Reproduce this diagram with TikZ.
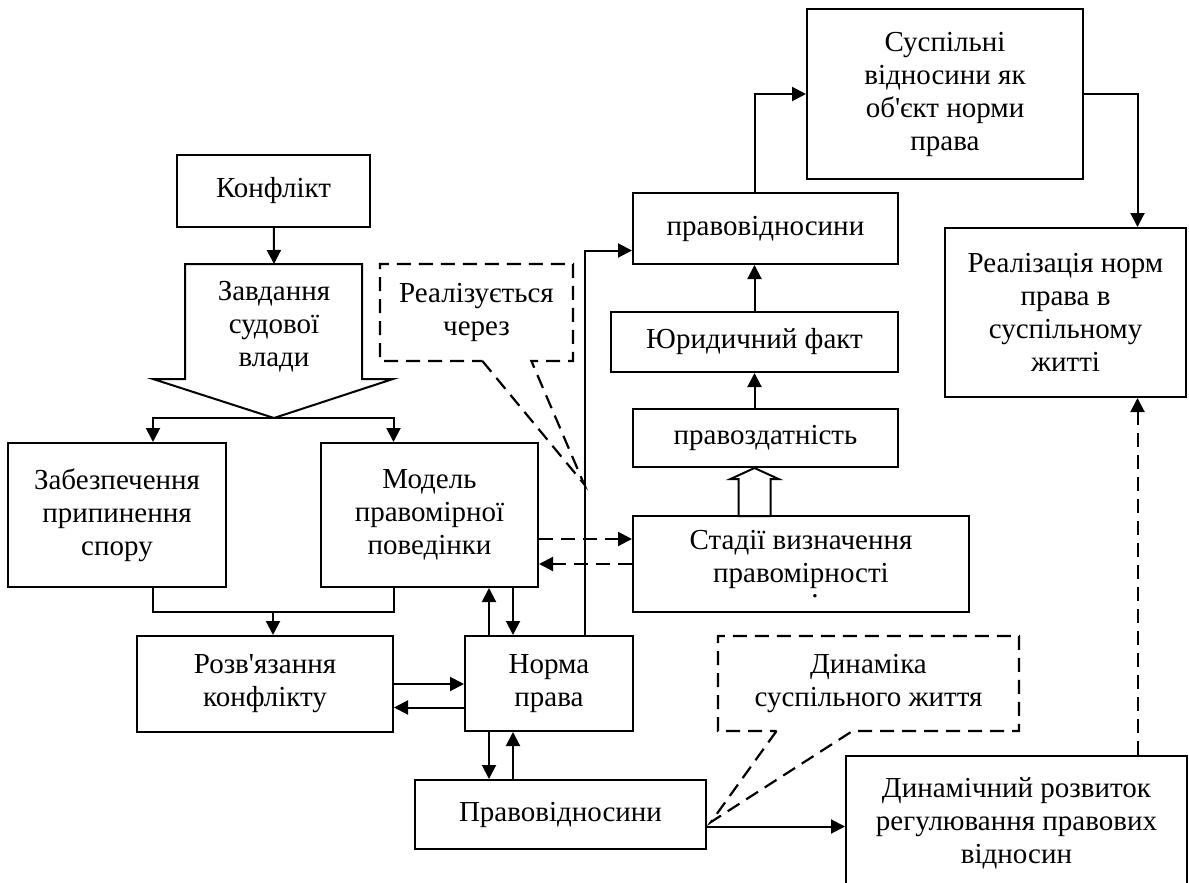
\documentclass[tikz,border=0pt]{standalone}
\usepackage{fontspec}
\setmainfont{Liberation Serif}
\usetikzlibrary{arrows.meta}
\usetikzlibrary{shapes.callouts}

\tikzset{
  blok/.style={draw, line width=1pt, align=center, inner sep=2pt},
  vynoska/.style={rectangle callout, draw, dash pattern=on 7pt off 4pt,
                  line width=1.1pt, align=center, inner sep=2pt},
  arr/.style={-{Triangle[length=7pt,width=7pt]}, line width=1pt},
  darr/.style={arr, dash pattern=on 7pt off 4pt},
}

\begin{document}
\begin{tikzpicture}[x=0.5pt,y=-0.5pt,font=\fontsize{14.5}{16.5}\selectfont]
 \useasboundingbox (0,0) rectangle (1189,883);
 \clip (0,0) rectangle (1189,883);

 % left part
 \node[blok, minimum width=96.5pt, minimum height=36pt] (konflikt) at (273.5,191) {Конфлікт};
 \coordinate (zavdtop) at (274,264);
 \coordinate (zavdtip) at (274,418);
 \draw[line width=1pt] (185,264) -- (362,264) -- (362,379) -- (393,379)
        -- (zavdtip) -- (153,379) -- (185,379) -- cycle;
 \node[align=center] (zavd) at (274,327) {Завдання\\судової\\влади};
 \node[blok, minimum width=109pt, minimum height=72pt] (zabezp) at (117,515)
   {Забезпечення\\припинення\\спору};
 \node[blok, minimum width=108.5pt, minimum height=72pt] (model) at (429.5,515)
   {Модель\\правомірної\\поведінки};
 \node[blok, minimum width=128pt, minimum height=48pt] (rozv) at (265,684)
   {Розв\textquotesingle язання\\конфлікту};
 \node[blok, minimum width=84pt, minimum height=47.5pt] (norma) at (549,683.5)
   {Норма\\права};
 \node[blok, minimum width=145.5pt, minimum height=34.5pt] (pravovidB) at (560.5,814.5)
   {Правовідносини};

 % right part
 \node[blok, minimum width=132.5pt, minimum height=35.5pt] (pravovidT) at (765.5,228.5)
   {правовідносини};
 \node[blok, minimum width=143.5pt, minimum height=30pt] (yuryd) at (754.5,342)
   {Юридичний факт};
 \node[blok, minimum width=132.5pt, minimum height=29pt] (pravozd) at (765.5,438)
   {правоздатність};
 \node[blok, minimum width=168pt, minimum height=48pt] (stadii) at (801,564)
   {Стадії визначення\\правомірності\\[-9pt]\hspace*{14pt}.};
 \node[blok, minimum width=138pt, minimum height=85pt] (suspilni) at (945,94)
   {Суспільні\\відносини як\\об\textquotesingle єкт норми\\права};
 \node[blok, minimum width=120.5pt, minimum height=84.5pt] (realizacia) at (1065.5,312.5)
   {Реалізація норм\\права в\\суспільному\\житті};
 \node[blok, minimum width=170.5pt, minimum height=67pt] (dynamichnyi) at (1016.5,823)
   {Динамічний розвиток\\регулювання правових\\відносин};

 % callouts
 \coordinate (rtip) at (584,484);
 \coordinate (dtip) at (711,822);
 \node[vynoska, minimum width=96.5pt, minimum height=48.5pt,
       callout absolute pointer={(rtip)}, callout pointer width=24.5pt] (realiz)
   at (476.5,312.5) {Реалізується\\через};
 \node[vynoska, minimum width=150.5pt, minimum height=47.5pt,
       callout absolute pointer={(dtip)}, callout pointer width=38pt] (dynamika)
   at (868.5,683.5) {Динаміка\\суспільного життя};

 % connectors
 \draw[arr] (konflikt) -- (zavdtop);
 \draw[arr] (zavdtip) -| ([xshift=18pt]zabezp.north);
 \draw[arr] (zavdtip) -| ([xshift=-18pt]model.north);
 \coordinate (merge) at (273,612);
 \draw[line width=1pt] ([xshift=18pt]zabezp.south) |- (merge) -| ([xshift=-18pt]model.south);
 \draw[arr] (merge) -- (merge |- rozv.north);
 \draw[arr] (rozv.east) -- (rozv.east -| norma.west);
 \draw[arr] ([yshift=-12pt]norma.west) -- ([yshift=-12pt]norma.west -| rozv.east);
 \draw[arr] ([xshift=-30pt]norma.north) -- ([xshift=-30pt]norma.north |- model.south);
 \draw[arr] ([xshift=-18pt]norma.north |- model.south) -- ([xshift=-18pt]norma.north);
 \draw[arr] ([xshift=-30pt]norma.south) -- ([xshift=-30pt]norma.south |- pravovidB.north);
 \draw[arr] ([xshift=-18pt]norma.south |- pravovidB.north) -- ([xshift=-18pt]norma.south);
 \draw[arr] ([xshift=18pt]norma.north) |- ([yshift=-11pt]pravovidT.west);
 \draw[darr] ([yshift=-12pt]model.east) -- ([yshift=-12pt]model.east -| stadii.west);
 \draw[darr] (stadii.west) -- (stadii.west -| model.east);
 \coordinate (ht) at (pravozd.south -| yuryd.north);
 \draw[line width=1pt] (ht) -- ++(24,11) -- ++(-8,0) -- ++(0,37) -- ++(-32,0)
        -- ++(0,-37) -- ++(-8,0) -- cycle;
 \draw[arr] (pravozd.north -| yuryd.south) -- (yuryd.south);
 \draw[arr] (yuryd.north) -- (yuryd.north |- pravovidT.south);
 \draw[arr] (pravovidT.north -| yuryd.north) |- (suspilni.west);
 \draw[arr] (suspilni.east) -| ([xshift=36pt]realizacia.north);
 \draw[darr] ([xshift=36pt]realizacia.south |- dynamichnyi.north) -- ([xshift=36pt]realizacia.south);
 \draw[arr] ([yshift=-6pt]pravovidB.east) -- ([yshift=-6pt]pravovidB.east -| dynamichnyi.west);
\end{tikzpicture}
\end{document}
